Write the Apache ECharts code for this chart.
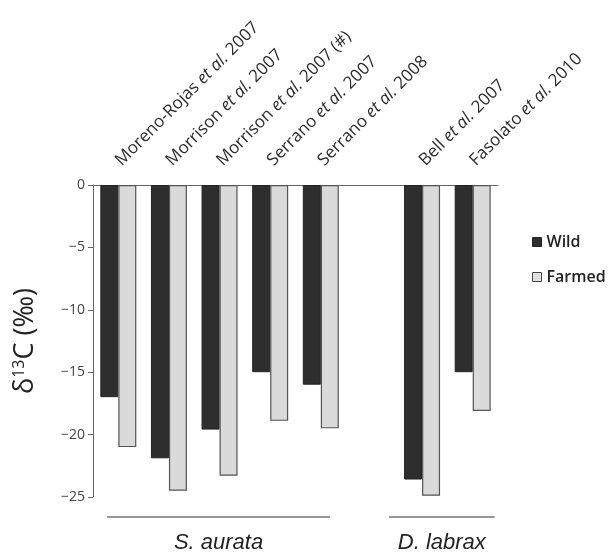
<!DOCTYPE html>
<html>
<head>
<meta charset="utf-8">
<script src="https://cdn.jsdelivr.net/npm/echarts@6/dist/echarts.min.js"></script>
<style>
  html, body { margin:0; padding:0; background:#fff; }
  #main { width:613px; height:558px; }
</style>
</head>
<body>
<div id="main"></div>
<script>
// studies (empty slot separates the two species)
var studies = ['Moreno-Rojas|2007', 'Morrison|2007', 'Morrison|2007 (#)', 'Serrano|2007', 'Serrano|2008', '', 'Bell|2007', 'Fasolato|2010'];
var wild    = [-17.0, -21.9, -19.6, -15.0, -16.0, null, -23.6, -15.0];
var farmed  = [-21.0, -24.5, -23.3, -18.9, -19.5, null, -24.9, -18.1];
var yTicks  = [0, -5, -10, -15, -20, -25];
// species groups: [first index, last index, name]
var groups  = [[0, 4, 'S. aurata'], [6, 7, 'D. labrax']];
// bracket overhang, in category widths (left, right)
var bracketPad = [[-0.22, 0.18], [-0.65, 0.43]];

var font = 'Open Sans';
var chart = echarts.init(document.getElementById('main'));

var option = {
    animation: false,
    grid: { left: 93, top: 185, width: 405, height: 312 },
    legend: {
        orient: 'vertical',
        left: 527, top: 229,
        icon: 'rect',
        itemWidth: 9, itemHeight: 9, itemGap: 19,
        textStyle: { fontFamily: font, fontSize: 16, fontWeight: 600, color: '#222' },
        data: [
            { name: 'Wild', itemStyle: { color: '#2e2e2e', borderColor: '#222', borderWidth: 1 } },
            { name: 'Farmed', itemStyle: { color: '#e0e0e0', borderColor: '#444', borderWidth: 1 } }
        ]
    },
    xAxis: {
        type: 'category',
        position: 'top',
        data: studies,
        axisLine: { lineStyle: { color: '#666', width: 1 } },
        axisTick: { inside: true, length: 5, lineStyle: { color: '#666' } },
        axisLabel: {
            interval: 0,
            rotate: 45,
            margin: 22,
            fontFamily: font, fontSize: 17, color: '#2a2a2a',
            formatter: function (v) {
                if (!v) return '';
                var p = v.split('|');
                return p[0] + ' {i|et al.} ' + p[1];
            },
            rich: { i: { fontStyle: 'italic', fontFamily: font, fontSize: 17, color: '#2a2a2a' } }
        }
    },
    yAxis: {
        type: 'value',
        min: -25, max: 0, interval: 5,
        name: '{a|δ}{s|13}{a|C (‰)}',
        nameLocation: 'middle',
        nameRotate: 90,
        nameGap: 53,
        nameTextStyle: {
            rich: {
                a: { fontFamily: font, fontSize: 27, color: '#222' },
                s: { fontFamily: font, fontSize: 16, color: '#222', verticalAlign: 'top', padding: [0, 0, 13, 0] }
            }
        },
        axisLine: { show: true, lineStyle: { color: '#666' } },
        axisTick: { show: true, length: 5, lineStyle: { color: '#666' } },
        splitLine: { show: false },
        axisLabel: {
            fontFamily: font, fontSize: 14, color: '#444', margin: 8,
            formatter: function (v) { return String(v).replace('-', '\u2212'); }
        }
    },
    series: [
        {
            name: 'Wild', type: 'bar', data: wild,
            barWidth: 18, barGap: '0%',
            itemStyle: { color: '#2e2e2e', borderColor: '#222', borderWidth: 1 }
        },
        {
            name: 'Farmed', type: 'bar', data: farmed,
            barWidth: 18,
            itemStyle: { color: '#dadada', borderColor: '#555', borderWidth: 1.2 }
        }
    ]
};
chart.setOption(option);

// species brackets under the plot, placed through the category axis
var graphics = [];
var step = chart.convertToPixel({ xAxisIndex: 0 }, 1) - chart.convertToPixel({ xAxisIndex: 0 }, 0);
var base = chart.convertToPixel({ yAxisIndex: 0 }, -25);
groups.forEach(function (g, k) {
    var x1 = chart.convertToPixel({ xAxisIndex: 0 }, g[0]) + step * bracketPad[k][0];
    var x2 = chart.convertToPixel({ xAxisIndex: 0 }, g[1]) + step * bracketPad[k][1];
    graphics.push({
        type: 'line',
        shape: { x1: x1, y1: base + 20, x2: x2, y2: base + 20 },
        style: { stroke: '#333', lineWidth: 1.2 }
    });
    graphics.push({
        type: 'text',
        x: (x1 + x2) / 2, y: base + 46,
        style: {
            text: g[2], fontFamily: 'Liberation Sans', fontStyle: 'italic', fontSize: 22,
            fill: '#222', align: 'center', verticalAlign: 'middle'
        }
    });
});
chart.setOption({ graphic: graphics });
</script>
</body>
</html>
